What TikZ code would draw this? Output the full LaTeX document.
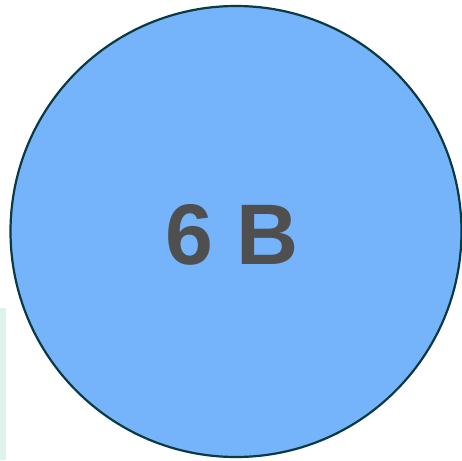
\documentclass[tikz,border=0pt]{standalone}
\usepackage{fontspec}
\setmainfont{Liberation Sans}
\definecolor{fillblue}{HTML}{75B4FA}
\definecolor{edgeteal}{HTML}{0B3A40}
\definecolor{txtgray}{HTML}{4F4F4F}
\definecolor{barmint}{HTML}{E0F2EC}
\begin{document}
\begin{tikzpicture}[x=1pt,y=-1pt,
  bignode/.style={circle,draw=edgeteal,line width=2.2pt,fill=fillblue,minimum size=451pt,inner sep=0pt},
  biglabel/.style={font=\fontsize{86}{86}\selectfont\bfseries,text=txtgray}]
\useasboundingbox (0,0) rectangle (462,460);
\fill[barmint] (0,308) rectangle (6,460);
\node[bignode] (c) at (236,231.5) {};
\node[biglabel,anchor=base] (t) at (232,264) {6 B};
\end{tikzpicture}
\end{document}
